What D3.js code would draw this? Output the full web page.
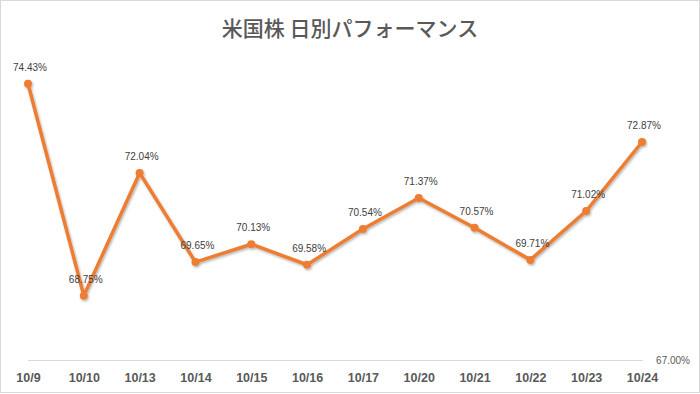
<!DOCTYPE html>
<html><head><meta charset="utf-8">
<script src="https://cdn.jsdelivr.net/npm/d3@7"></script>
<style>body{margin:0;background:#fff}svg{display:block}</style>
</head><body><svg id="c" width="700" height="394"></svg>
<script>
const categories = ["10/9","10/10","10/13","10/14","10/15","10/16","10/17","10/20","10/21","10/22","10/23","10/24"];
const values = [74.43,68.75,72.04,69.65,70.13,69.58,70.54,71.37,70.57,69.71,71.02,72.87];
const yDomain = [67, 75];
const axisLabel = "67.00%";
const title = "米国株 日別パフォーマンス";

const svg = d3.select("#c");
svg.append("rect").attr("x",0.5).attr("y",0.5).attr("width",699).attr("height",392)
  .attr("fill","#fff").attr("stroke","#d9d9d9");

const x = d3.scalePoint().domain(categories).range([28, 642]);
const y = d3.scaleLinear().domain(yDomain).range([361, 62.5]);

svg.append("text").attr("x",350).attr("y",36).attr("text-anchor","middle")
  .attr("font-family","'Noto Sans CJK JP'").attr("font-size",21).attr("font-weight",500)
  .attr("fill","#595959").text(title);

svg.append("line").attr("x1",28).attr("x2",643).attr("y1",360.5).attr("y2",360.5)
  .attr("stroke","#d9d9d9").attr("stroke-width",1);

svg.append("text").attr("x",690).attr("y",y(yDomain[0])+3).attr("text-anchor","end")
  .attr("font-family","'Liberation Sans',Arial").attr("font-size",10).attr("fill","#595959").text(axisLabel);

const xAxis = d3.axisBottom(x).tickSize(0).tickPadding(0);
const gx = svg.append("g").attr("transform","translate(0,373)").call(xAxis);
gx.select(".domain").remove();
gx.selectAll("text").attr("font-family","'Liberation Sans',Arial").attr("font-size",12.5)
  .attr("font-weight","bold").attr("fill","#595959").attr("dy","0.71em");

const defs = svg.append("defs");
const f = defs.append("filter").attr("id","sh").attr("x","-10%").attr("y","-10%").attr("width","120%").attr("height","120%");
f.append("feDropShadow").attr("dx",1).attr("dy",1.5).attr("stdDeviation",1).attr("flood-color","#000").attr("flood-opacity",0.3);

const line = d3.line().x((d,i)=>x(categories[i])).y(d=>y(d));
const g = svg.append("g").attr("filter","url(#sh)");
g.append("path").datum(values).attr("d",line).attr("fill","none").attr("stroke","#ED7D31")
  .attr("stroke-width",3.5).attr("stroke-linejoin","round").attr("stroke-linecap","round");
g.selectAll("circle").data(values).join("circle").attr("cx",(d,i)=>x(categories[i])).attr("cy",d=>y(d))
  .attr("r",4).attr("fill","#ED7D31");

svg.selectAll("text.lbl").data(values).join("text").attr("class","lbl")
  .attr("x",(d,i)=>x(categories[i])+2).attr("y",d=>y(d)-13).attr("text-anchor","middle")
  .attr("font-family","'Liberation Sans',Arial").attr("font-size",10).attr("fill","#404040")
  .text(d=>d.toFixed(2)+"%");
</script></body></html>
